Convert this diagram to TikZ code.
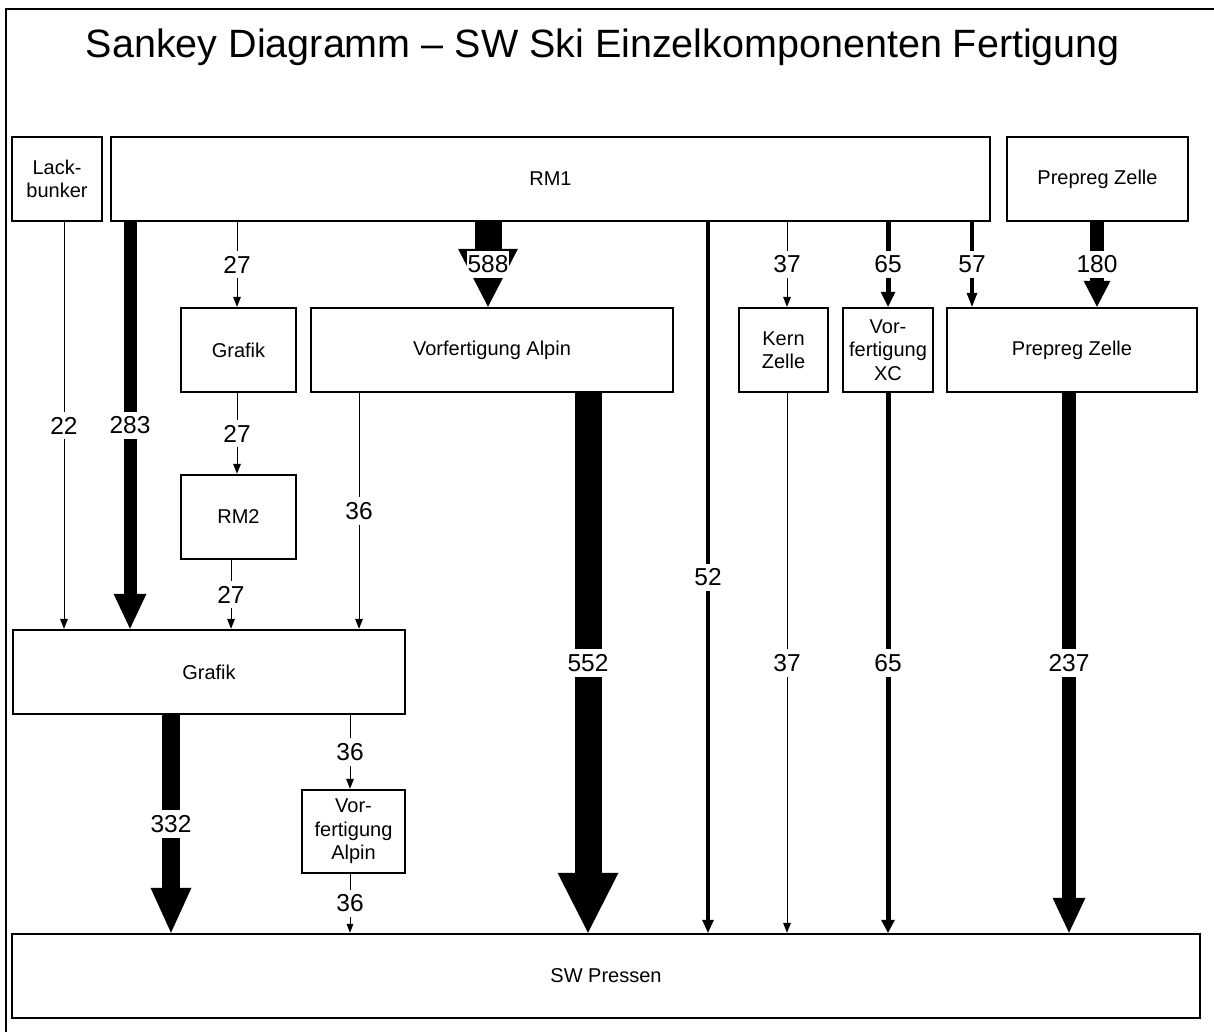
\documentclass[tikz,border=0pt]{standalone}
\usepackage{fontspec}
\setmainfont{Liberation Sans}
\usetikzlibrary{arrows.meta}

\tikzset{
  box/.style={draw, line width=2.5pt, fill=white, inner sep=0pt, align=center,
    minimum height=84pt, font=\fontsize{20}{23.5}\selectfont},
  flow/.style n args={3}{line width=#1pt,
    -{Triangle[width=#2pt, length=#3pt, line width=0pt]}},
  num/.style={midway, fill=white, inner xsep=0.5pt, inner ysep=5pt,
    font=\fontsize{24.5}{28}\selectfont},
}

\begin{document}
\begin{tikzpicture}[x=1pt, y=-1pt]
    \useasboundingbox (0,0) rectangle (1214,1032);
    \draw[line width=1.5pt] (6,1032) -- (6,9) -- (1214,9);
    \node[font=\fontsize{39.5}{44}\selectfont] (title) at (603,47)
        {Sankey Diagramm – SW Ski Einzelkomponenten Fertigung};

    % sources
    \node[box, minimum width=90pt] (lack) at (57,179) {Lack-\\bunker};
    \node[box, minimum width=879pt] (rm1) at (550.5,179) {RM1};
    \node[box, minimum width=181pt] (prepregtop) at (1097.5,179) {Prepreg Zelle};
    % first stage
    \node[box, minimum width=115pt] (grafik) at (238.5,350) {Grafik};
    \node[box, minimum width=362pt] (alpin) at (492,350) {Vorfertigung Alpin};
    \node[box, minimum width=89pt] (kern) at (783.5,350) {Kern\\Zelle};
    \node[box, minimum width=90pt] (xc) at (888,350) {Vor-\\fertigung\\XC};
    \node[box, minimum width=250pt] (prepreg) at (1072,350) {Prepreg Zelle};
    \node[box, minimum width=115pt] (rm2) at (238.5,517) {RM2};
    % second stage
    \node[box, minimum width=392pt] (grafikbig) at (209,672) {Grafik};
    \node[box, minimum width=103pt, minimum height=83pt] (alpinsmall) at (353.5,831.5)
        {Vor-\\fertigung\\Alpin};
    \node[box, minimum width=1188pt] (press) at (606,976) {SW Pressen};

    % flows, width ~ amount
    \draw[flow={1}{8}{10}] (64,0 |- lack.south) -- (64,0 |- grafikbig.north) node[num] {22};
    \draw[flow={13}{33}{35}] (130,0 |- rm1.south) -- (130,0 |- grafikbig.north) node[num] {283};
    \draw[flow={1}{8}{10}] (237,0 |- rm1.south) -- (237,0 |- grafik.north) node[num] {27};
    \draw[flow={1}{8}{10}] (237,0 |- grafik.south) -- (237,0 |- rm2.north) node[num] {27};
    \draw[flow={1}{8}{10}] (231,0 |- rm2.south) -- (231,0 |- grafikbig.north) node[num] {27};
    \draw[flow={27}{60}{58}] (488,0 |- rm1.south) -- (488,0 |- alpin.north) node[num] {588};
    \draw[flow={1}{8}{10}] (359,0 |- alpin.south) -- (359,0 |- grafikbig.north) node[num] {36};
    \draw[flow={27}{61}{60}] (588,0 |- alpin.south) -- (588,0 |- press.north) node[num] {552};
    \draw[flow={4}{12}{13}] (708,0 |- rm1.south) -- (708,0 |- press.north) node[num] {52};
    \draw[flow={1}{8}{10}] (787,0 |- rm1.south) -- (787,0 |- kern.north) node[num] {37};
    \draw[flow={1}{8}{10}] (787,0 |- kern.south) -- (787,0 |- press.north) node[num] {37};
    \draw[flow={5}{15}{15}] (888,0 |- rm1.south) -- (xc.north) node[num] {65};
    \draw[flow={5}{14}{13}] (xc.south) -- (888,0 |- press.north) node[num] {65};
    \draw[flow={4}{11}{14}] (972,0 |- rm1.south) -- (972,0 |- prepreg.north) node[num] {57};
    \draw[flow={14}{27}{26}] (1097,0 |- prepregtop.south) -- (1097,0 |- prepreg.north) node[num] {180};
    \draw[flow={14}{33}{35}] (1069,0 |- prepreg.south) -- (1069,0 |- press.north) node[num] {237};
    \draw[flow={18}{41}{45}] (171,0 |- grafikbig.south) -- (171,0 |- press.north) node[num] {332};
    \draw[flow={1}{8}{10}] (350,0 |- grafikbig.south) -- (350,0 |- alpinsmall.north) node[num] {36};
    \draw[flow={1}{7}{9}] (350,0 |- alpinsmall.south) -- (350,0 |- press.north) node[num] {36};
\end{tikzpicture}
\end{document}
